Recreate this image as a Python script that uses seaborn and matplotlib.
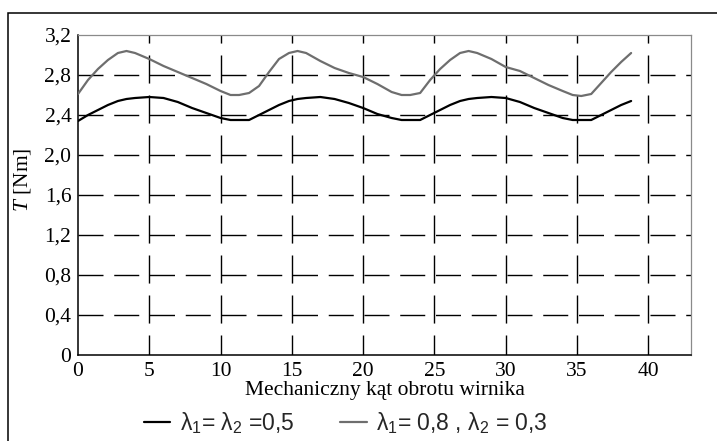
import numpy as np
import pandas as pd
import matplotlib
matplotlib.use("Agg")
import matplotlib.pyplot as plt
import seaborn as sns
from matplotlib.patches import Rectangle
from matplotlib.ticker import FuncFormatter

# kat obrotu wirnika [deg]
kat = [0.0, 0.7, 1.4, 2.1, 2.8, 3.4, 4.0, 5.0, 6.0, 7.0, 8.0, 9.0, 10.0, 10.7, 11.3,
       12.0, 12.7, 13.4, 14.1, 14.8, 15.4, 16.0, 17.0, 18.0, 19.0, 20.0, 21.0, 22.0, 22.7, 23.3,
       24.0, 24.7, 25.4, 26.1, 26.8, 27.4, 28.0, 29.0, 30.0, 31.0, 32.0, 33.0, 34.0, 34.7, 35.3,
       36.0, 36.7, 37.4, 38.1, 38.8]

# lambda1 = lambda2 = 0,5
moment_a = [2.34, 2.40, 2.45, 2.50, 2.54, 2.56, 2.57, 2.58, 2.57, 2.53, 2.47, 2.42, 2.37, 2.35, 2.35,
            2.35, 2.40, 2.45, 2.50, 2.54, 2.56, 2.57, 2.58, 2.56, 2.52, 2.47, 2.41, 2.37, 2.35, 2.35,
            2.35, 2.40, 2.45, 2.50, 2.54, 2.56, 2.57, 2.58, 2.57, 2.53, 2.47, 2.42, 2.37, 2.35, 2.35,
            2.35, 2.40, 2.45, 2.50, 2.54]

# lambda1 = 0,8 ; lambda2 = 0,3
moment_b = [2.61, 2.75, 2.86, 2.95, 3.02, 3.04, 3.02, 2.96, 2.89, 2.83, 2.77, 2.71, 2.64, 2.60, 2.60,
            2.62, 2.69, 2.83, 2.96, 3.02, 3.04, 3.02, 2.94, 2.87, 2.82, 2.78, 2.71, 2.63, 2.60, 2.60,
            2.62, 2.75, 2.86, 2.95, 3.02, 3.04, 3.02, 2.96, 2.88, 2.84, 2.77, 2.70, 2.64, 2.60, 2.59,
            2.61, 2.72, 2.83, 2.93, 3.02]

etykiety = [r"λ$_\mathsf{1}$= λ$_\mathsf{2}$ =0,5", r"λ$_\mathsf{1}$= 0,8 , λ$_\mathsf{2}$ = 0,3"]
x_ticks = [0, 5, 10, 15, 20, 25, 30, 35, 40]
y_ticks = [0, 0.4, 0.8, 1.2, 1.6, 2.0, 2.4, 2.8, 3.2]

df = pd.DataFrame({"kat": kat, "a": moment_a, "b": moment_b})

sns.set_theme(style="white")
plt.rcParams['font.family'] = ['Liberation Serif', 'DejaVu Serif']
plt.rcParams['mathtext.fontset'] = 'custom'
plt.rcParams['mathtext.rm'] = 'Liberation Serif'
plt.rcParams['mathtext.it'] = 'Liberation Serif:italic'
plt.rcParams['mathtext.sf'] = 'Liberation Sans'

FS = 15.5
fig = plt.figure(figsize=(7.17, 4.41), dpi=100)
ax = fig.add_axes([78 / 717, 86 / 441, 613 / 717, 320 / 441])

# siatka - kreskowana, bez linii na brzegach
for xv in x_ticks[1:]:
    ax.axvline(xv, color='black', lw=1.0, linestyle=(5.8, (20.2, 8.6)), zorder=1)
for yv in y_ticks[1:-1]:
    ax.axhline(yv, color='black', lw=1.0, linestyle=(0, (18.0, 7.74)), zorder=1)

sns.lineplot(data=df, x="kat", y="a", color='black', lw=1.6, ax=ax, label=etykiety[0], zorder=3)
sns.lineplot(data=df, x="kat", y="b", color='#6e6e6e', lw=1.6, ax=ax, label=etykiety[1], zorder=3)

ax.set_xlim(0, 43)
ax.set_ylim(0, 3.2)
ax.set_xticks(x_ticks)
ax.set_xticks([43], minor=True)
ax.set_yticks(y_ticks)
ax.yaxis.set_major_formatter(FuncFormatter(lambda v, p: "0" if v == 0 else f"{v:.1f}".replace('.', ',')))
ax.tick_params(axis='both', which='both', direction='inout', length=6.5, width=1.0,
               color='black', labelsize=FS, pad=1.5, labelcolor='black')

for s in ['left', 'bottom']:
    ax.spines[s].set_color('black')
    ax.spines[s].set_linewidth(1.1)
for s in ['top', 'right']:
    ax.spines[s].set_color('#8a8a8a')
    ax.spines[s].set_linewidth(0.9)

ax.set_xlabel("Mechaniczny kąt obrotu wirnika", fontsize=FS, labelpad=0, color='black')
ax.set_ylabel("$T$ [Nm]", fontsize=FS, color='black')
ax.yaxis.set_label_coords(-0.074, 0.547)

h, l = ax.get_legend_handles_labels()
ax.get_legend().remove()
fig.legend(h, l, loc='center', bbox_to_anchor=(346 / 717, 1 - 423 / 441), ncol=2, frameon=False,
           prop={'family': ['Liberation Sans', 'DejaVu Sans'], 'size': 16.5},
           handlelength=1.15, handletextpad=0.42, columnspacing=2.0)

# ramka zewnetrzna
fig.add_artist(Rectangle((8 / 717, -0.1), 1.2, 1.1 - 13 / 441, transform=fig.transFigure,
                         fill=False, edgecolor='black', lw=1.1, clip_on=False))

plt.savefig("out.png", dpi=100)
plt.close()
